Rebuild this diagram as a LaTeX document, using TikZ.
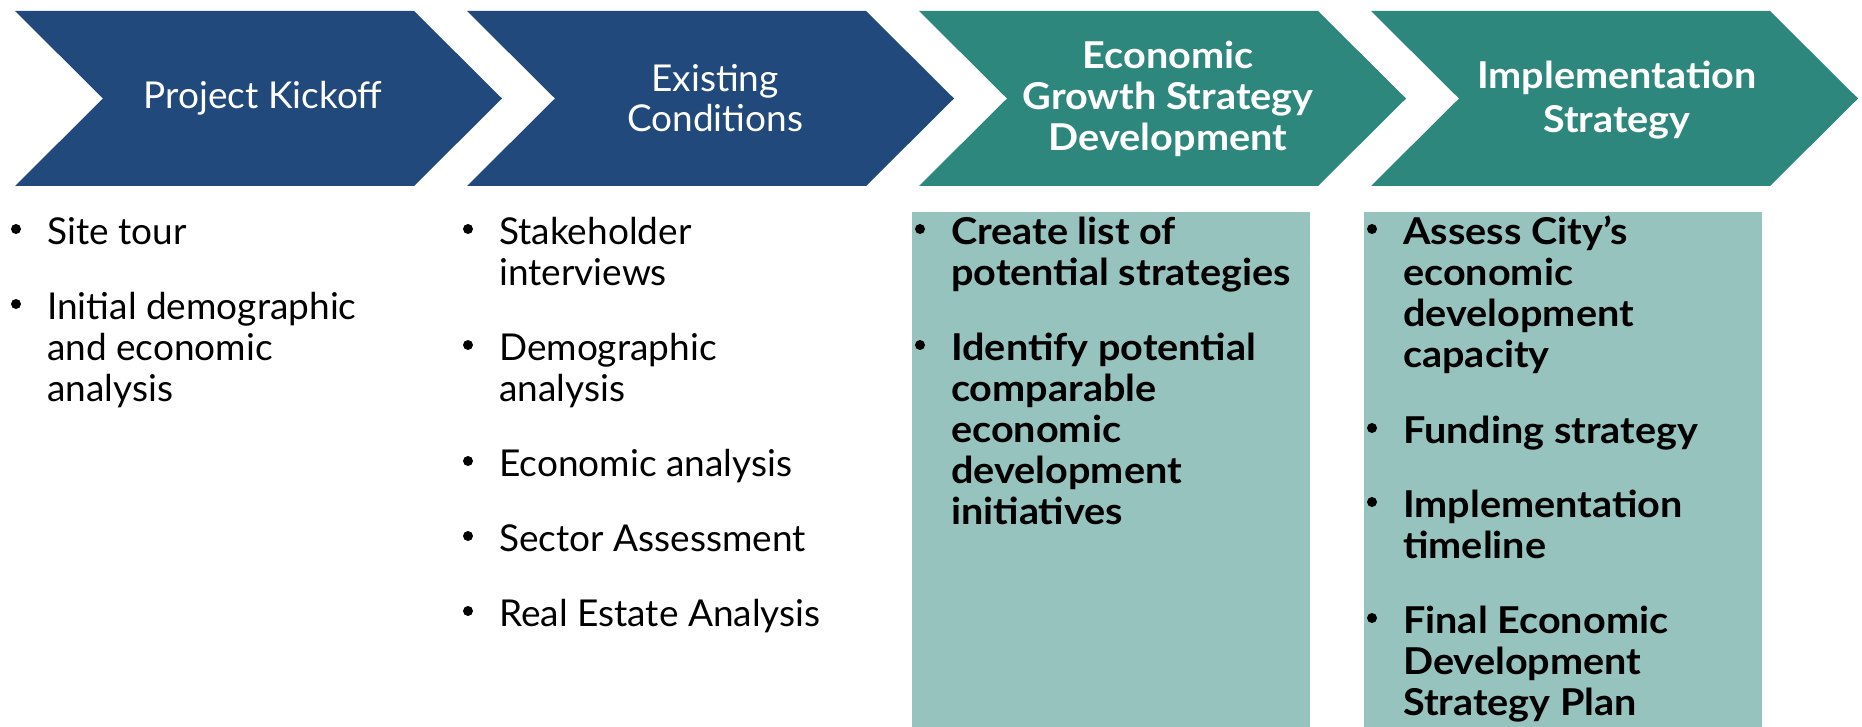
\documentclass[tikz,border=0pt]{standalone}
\usepackage{fontspec}
\setmainfont{Lato}
\newfontfamily\latowide[FakeStretch=1.07]{Lato}
\definecolor{navy}{HTML}{21497C}
\definecolor{tealdark}{HTML}{2D877D}
\definecolor{tealbox}{HTML}{97C3BE}
\tikzset{
  hdr/.style={text=white, align=center, inner sep=0pt, font=\fontsize{37}{40}\selectfont},
  hdrb/.style={hdr, font=\latowide\fontsize{37}{41}\selectfont\bfseries},
  item/.style={anchor=base west, align=left, inner sep=0pt, font=\fontsize{37}{41}\selectfont},
  itemb/.style={item, font=\latowide\fontsize{37}{41}\selectfont\bfseries},
}
\newcommand\chevshape[2]{\fill[#2] (#1,11) -- ++(399,0) -- ++(88,87.5) -- ++(-88,87.5) -- ++(-399,0) -- ++(88,-87.5) -- cycle;}
% bullet beside the first line of a node whose base is its last line
\newcommand\bul[2]{\fill ([shift={(-31,{-15-(#2-1)*41})}]#1.base west) circle (5);}
\begin{document}
\begin{tikzpicture}[x=1pt,y=-1pt]
\useasboundingbox (0,0) rectangle (1862,727);
% chevrons
\chevshape{15}{navy}
\chevshape{467}{navy}
\chevshape{919}{tealdark}
\chevshape{1371}{tealdark}
% boxes
\fill[tealbox] (912,212) rectangle (1310,727);
\fill[tealbox] (1364,212) rectangle (1762,727);
% headers
\node[hdr] (h1) at (263,98.5) {Project Kickoff};
\node[hdr] (h2) at (715,98.5) {Existing\\Conditions};
\node[hdrb] (h3) at (1168,99) {Economic\\Growth Strategy\\Development};
\node[hdrb, font=\latowide\fontsize{37}{44}\selectfont\bfseries] (h4) at (1617,100) {Implementation\\Strategy};
% column 1 (node base = last line)
\node[item] (a1) at (47,244) {Site tour};
\node[item] (a2) at (47,401) {Initial demographic\\and economic\\analysis};
% column 2
\node[item] (b1) at (499,285) {Stakeholder\\interviews};
\node[item] (b2) at (499,401) {Demographic\\analysis};
\node[item] (b3) at (499,476) {Economic analysis};
\node[item] (b4) at (499,551) {Sector Assessment};
\node[item] (b5) at (499,626) {Real Estate Analysis};
% column 3
\node[itemb] (c1) at (951,285) {Create list of\\potential strategies};
\node[itemb] (c2) at (951,524) {Identify potential\\comparable\\economic\\development\\initiatives};
% column 4
\node[itemb] (d1) at (1403,367) {Assess City’s\\economic\\development\\capacity};
\node[itemb] (d2) at (1403,443) {Funding strategy};
\node[itemb] (d3) at (1403,558) {Implementation\\timeline};
\node[itemb] (d4) at (1403,715) {Final Economic\\Development\\Strategy Plan};
% bullets
\foreach \n/\k in {a1/1,a2/3,b1/2,b2/2,b3/1,b4/1,b5/1,c1/2,c2/5,d1/4,d2/1,d3/2,d4/3}{\bul{\n}{\k}}
\end{tikzpicture}
\end{document}
